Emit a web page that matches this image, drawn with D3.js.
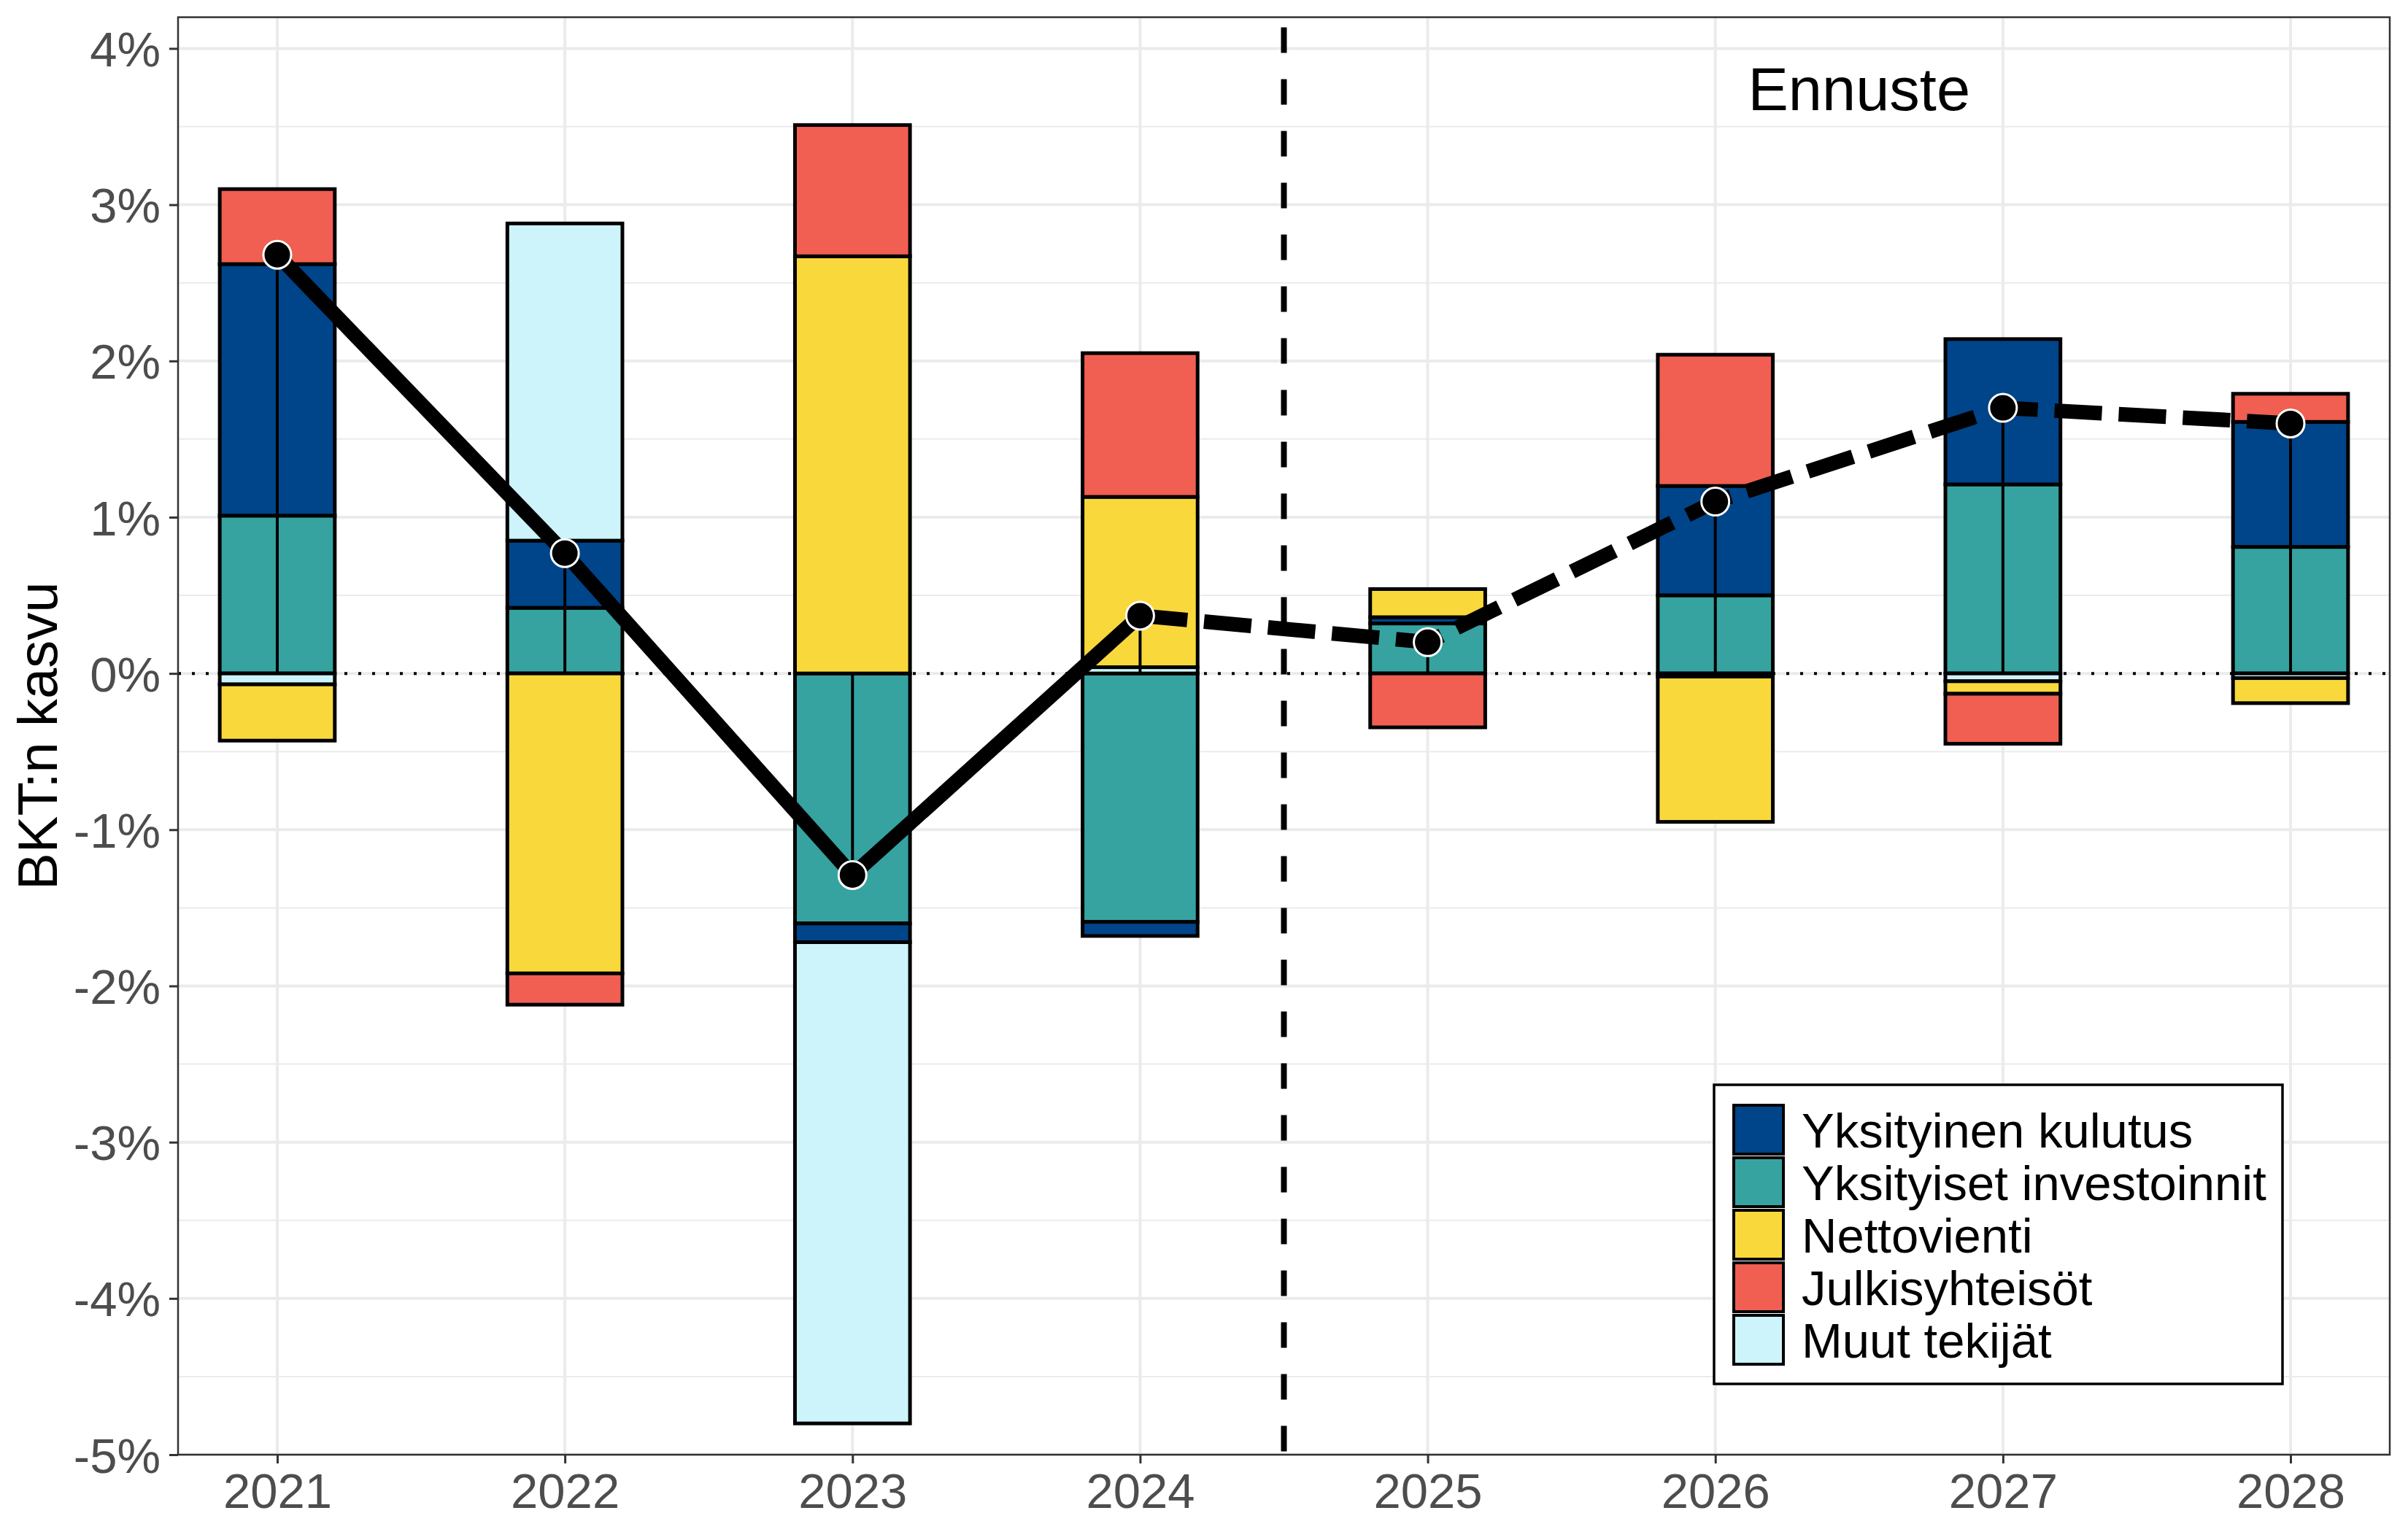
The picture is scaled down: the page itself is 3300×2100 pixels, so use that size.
<!DOCTYPE html>
<html>
<head>
<meta charset="utf-8">
<script src="https://cdn.jsdelivr.net/npm/d3@7"></script>
<style>
  html, body { margin: 0; padding: 0; background: #fff; }
  svg { display: block; font-family: "Liberation Sans", Arial, sans-serif; }
</style>
</head>
<body>
<svg id="chart" width="3300" height="2100"></svg>
<script>
// ---- data ----
const years = [2021, 2022, 2023, 2024, 2025, 2026, 2027, 2028];
const kulutus      = [1.61, 0.43, -0.12, -0.09, 0.04, 0.70, 0.93, 0.80];   // Yksityinen kulutus
const investoinnit = [1.01, 0.42, -1.60, -1.59, 0.32, 0.50, 1.21, 0.81];   // Yksityiset investoinnit
const nettovienti  = [-0.36, -1.92, 2.67, 1.09, 0.18, -0.93, -0.08, -0.16]; // Nettovienti
const julkis       = [0.48, -0.20, 0.84, 0.92, -0.345, 0.84, -0.32, 0.18];  // Julkisyhteisöt
const muut         = [-0.07, 2.03, -3.08, 0.04, 0.00, -0.02, -0.05, -0.03]; // Muut tekijät
const gdp          = [2.68, 0.77, -1.29, 0.37, 0.20, 1.10, 1.70, 1.60];
const seriesNames  = ["Yksityinen kulutus", "Yksityiset investoinnit", "Nettovienti", "Julkisyhteisöt", "Muut tekijät"];
const seriesColors = ["#00448A", "#36A3A1", "#F9D83C", "#F05F51", "#CDF4FB"];
const stackOrder   = ["Yksityiset investoinnit", "Yksityinen kulutus", "Muut tekijät", "Nettovienti", "Julkisyhteisöt"];
const yTicks = [-5, -4, -3, -2, -1, 0, 1, 2, 3, 4];
const yMinor = [-4.5, -3.5, -2.5, -1.5, -0.5, 0.5, 1.5, 2.5, 3.5];
const forecastStart = 2024.5;
const lastActual = 2024;
const annotation = "Ennuste";
const yTitle = "BKT:n kasvu";

const seriesValues = {
  "Yksityinen kulutus": kulutus,
  "Yksityiset investoinnit": investoinnit,
  "Nettovienti": nettovienti,
  "Julkisyhteisöt": julkis,
  "Muut tekijät": muut
};
const colorOf = d3.scaleOrdinal().domain(seriesNames).range(seriesColors);

// ---- layout ----
const svg = d3.select("#chart");
const x = d3.scaleLinear().domain([2020.655, 2028.345]).range([244, 3275]);
const y = d3.scaleLinear().domain([-5, 4.2]).range([1994, 23.6]);
const barHalf = 0.2;
const fmt = v => v + "%";

// grid
const grid = svg.append("g");
grid.selectAll(".minor").data(yMinor).join("line")
  .attr("x1", x.range()[0]).attr("x2", x.range()[1])
  .attr("y1", d => y(d)).attr("y2", d => y(d))
  .attr("stroke", "#EBEBEB").attr("stroke-width", 2);
grid.selectAll(".major").data(yTicks).join("line")
  .attr("x1", x.range()[0]).attr("x2", x.range()[1])
  .attr("y1", d => y(d)).attr("y2", d => y(d))
  .attr("stroke", "#EBEBEB").attr("stroke-width", 4);
grid.selectAll(".vmajor").data(years).join("line")
  .attr("x1", d => x(d)).attr("x2", d => x(d))
  .attr("y1", y.range()[0]).attr("y2", y.range()[1])
  .attr("stroke", "#EBEBEB").attr("stroke-width", 4);

// zero dotted line
svg.append("line")
  .attr("x1", x.range()[0]).attr("x2", x.range()[1])
  .attr("y1", y(0)).attr("y2", y(0))
  .attr("stroke", "#000").attr("stroke-width", 4)
  .attr("stroke-dasharray", "4,15");

// stacked bars
const segs = [];
years.forEach((yr, i) => {
  let pos = 0, neg = 0;
  stackOrder.forEach(name => {
    const v = seriesValues[name][i];
    if (v === 0) return;
    let y0, y1;
    if (v > 0) { y0 = pos; y1 = pos + v; pos = y1; }
    else { y0 = neg; y1 = neg + v; neg = y1; }
    segs.push({ yr, name, y0, y1 });
  });
});
svg.append("g").selectAll("rect").data(segs).join("rect")
  .attr("x", d => x(d.yr - barHalf))
  .attr("width", d => x(d.yr + barHalf) - x(d.yr - barHalf))
  .attr("y", d => y(Math.max(d.y0, d.y1)))
  .attr("height", d => Math.abs(y(d.y0) - y(d.y1)))
  .attr("fill", d => colorOf(d.name))
  .attr("stroke", "#000").attr("stroke-width", 5);

// center line from 0 to total
svg.append("g").selectAll("line").data(years).join("line")
  .attr("x1", d => x(d)).attr("x2", d => x(d))
  .attr("y1", y(0)).attr("y2", (d, i) => y(gdp[i]))
  .attr("stroke", "#000").attr("stroke-width", 4);

// forecast vertical dashed line
svg.append("line")
  .attr("x1", x(forecastStart)).attr("x2", x(forecastStart))
  .attr("y1", y(4.2) + 14).attr("y2", y(-5))
  .attr("stroke", "#000").attr("stroke-width", 8)
  .attr("stroke-dasharray", "35,36");

// GDP line
const pts = years.map((yr, i) => ({ yr, v: gdp[i] }));
const line = d3.line().x(d => x(d.yr)).y(d => y(d.v));
svg.append("path").datum(pts.filter(d => d.yr <= lastActual))
  .attr("d", line).attr("fill", "none")
  .attr("stroke", "#000").attr("stroke-width", 20).attr("stroke-linejoin", "round");
svg.append("path").datum(pts.filter(d => d.yr >= lastActual))
  .attr("d", line).attr("fill", "none")
  .attr("stroke", "#000").attr("stroke-width", 20)
  .attr("stroke-dasharray", "65,23");

svg.append("g").selectAll("circle").data(pts).join("circle")
  .attr("cx", d => x(d.yr)).attr("cy", d => y(d.v)).attr("r", 19)
  .attr("fill", "#000").attr("stroke", "#fff").attr("stroke-width", 3);

// panel border
svg.append("rect")
  .attr("x", x.range()[0]).attr("y", y.range()[1])
  .attr("width", x.range()[1] - x.range()[0])
  .attr("height", y.range()[0] - y.range()[1])
  .attr("fill", "none").attr("stroke", "#333333").attr("stroke-width", 2.5);

// axes
const yAxis = svg.append("g").attr("transform", `translate(${x.range()[0]},0)`)
  .call(d3.axisLeft(y).tickValues(yTicks).tickFormat(fmt).tickSize(12).tickPadding(12));
const xAxis = svg.append("g").attr("transform", `translate(0,${y.range()[0]})`)
  .call(d3.axisBottom(x).tickValues(years).tickFormat(d3.format("d")).tickSize(12).tickPadding(10));
[yAxis, xAxis].forEach(a => {
  a.select(".domain").remove();
  a.selectAll(".tick line").attr("stroke", "#333333").attr("stroke-width", 3);
  a.selectAll(".tick text").attr("fill", "#4D4D4D")
    .style("font-size", "67px").style("font-family", "Liberation Sans, Arial, sans-serif");
});
xAxis.selectAll(".tick text").attr("dy", "0.76em");
yAxis.selectAll(".tick text").attr("dy", "0.36em");

// axis title
svg.append("text")
  .attr("transform", `translate(78,${(y.range()[0] + y.range()[1]) / 2}) rotate(-90)`)
  .attr("text-anchor", "middle")
  .style("font-size", "76px").attr("fill", "#000")
  .text(yTitle);

// annotation
svg.append("text")
  .attr("x", x(2026.5)).attr("y", 151)
  .attr("text-anchor", "middle")
  .style("font-size", "83px").attr("fill", "#000")
  .text(annotation);

// legend
const lg = svg.append("g");
lg.append("rect").attr("x", 2349).attr("y", 1487).attr("width", 779).attr("height", 410)
  .attr("fill", "#fff").attr("stroke", "#000").attr("stroke-width", 3.5);
const items = lg.selectAll(".item").data(seriesNames).join("g")
  .attr("transform", (d, i) => `translate(2376,${1515 + i * 72})`);
items.append("rect").attr("x", 0).attr("y", 0).attr("width", 68).attr("height", 67)
  .attr("fill", d => colorOf(d)).attr("stroke", "#000").attr("stroke-width", 4);
items.append("text").attr("x", 93).attr("y", 34).attr("dy", "0.36em")
  .style("font-size", "67px").attr("fill", "#000").text(d => d);
</script>
</body>
</html>
